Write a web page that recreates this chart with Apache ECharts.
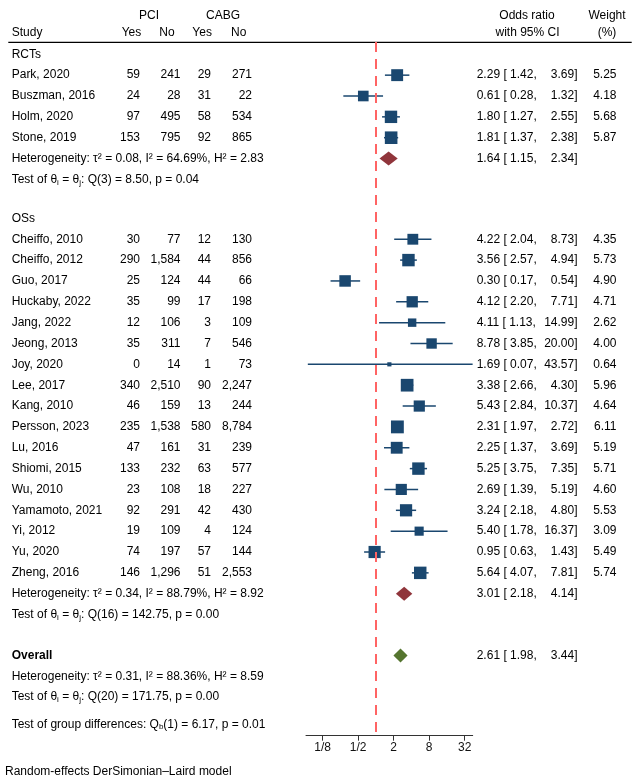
<!DOCTYPE html>
<html>
<head>
<meta charset="utf-8">
<script src="https://cdn.jsdelivr.net/npm/echarts@6/dist/echarts.min.js"></script>
<style>html,body{margin:0;padding:0;background:#fff}#main{width:640px;height:779px}</style>
</head>
<body>
<div id="main"></div>
<script>
// ---------------- DATA ----------------
const rctStudies = ['Park, 2020', 'Buszman, 2016', 'Holm, 2020', 'Stone, 2019'];
const rctPciYes  = [59, 24, 97, 153];
const rctPciNo   = [241, 28, 495, 795];
const rctCabgYes = [29, 31, 58, 92];
const rctCabgNo  = [271, 22, 534, 865];
const rctOR      = [2.29, 0.61, 1.80, 1.81];
const rctLo      = [1.42, 0.28, 1.27, 1.37];
const rctHi      = [3.69, 1.32, 2.55, 2.38];
const rctWeight  = [5.25, 4.18, 5.68, 5.87];
const rctPooled  = [1.64, 1.15, 2.34];
const rctHet     = ['0.08', '64.69', '2.83'];
const rctQ       = ['3', '8.50', '0.04'];

const osStudies = ['Cheiffo, 2010', 'Cheiffo, 2012', 'Guo, 2017', 'Huckaby, 2022', 'Jang, 2022', 'Jeong, 2013',
  'Joy, 2020', 'Lee, 2017', 'Kang, 2010', 'Persson, 2023', 'Lu, 2016', 'Shiomi, 2015', 'Wu, 2010',
  'Yamamoto, 2021', 'Yi, 2012', 'Yu, 2020', 'Zheng, 2016'];
const osPciYes  = [30, 290, 25, 35, 12, 35, 0, 340, 46, 235, 47, 133, 23, 92, 19, 74, 146];
const osPciNo   = [77, 1584, 124, 99, 106, 311, 14, 2510, 159, 1538, 161, 232, 108, 291, 109, 197, 1296];
const osCabgYes = [12, 44, 44, 17, 3, 7, 1, 90, 13, 580, 31, 63, 18, 42, 4, 57, 51];
const osCabgNo  = [130, 856, 66, 198, 109, 546, 73, 2247, 244, 8784, 239, 577, 227, 430, 124, 144, 2553];
const osOR      = [4.22, 3.56, 0.30, 4.12, 4.11, 8.78, 1.69, 3.38, 5.43, 2.31, 2.25, 5.25, 2.69, 3.24, 5.40, 0.95, 5.64];
const osLo      = [2.04, 2.57, 0.17, 2.20, 1.13, 3.85, 0.07, 2.66, 2.84, 1.97, 1.37, 3.75, 1.39, 2.18, 1.78, 0.63, 4.07];
const osHi      = [8.73, 4.94, 0.54, 7.71, 14.99, 20.00, 43.57, 4.30, 10.37, 2.72, 3.69, 7.35, 5.19, 4.80, 16.37, 1.43, 7.81];
const osWeight  = [4.35, 5.73, 4.90, 4.71, 2.62, 4.00, 0.64, 5.96, 4.64, 6.11, 5.19, 5.71, 4.60, 5.53, 3.09, 5.49, 5.74];
const osPooled  = [3.01, 2.18, 4.14];
const osHet     = ['0.34', '88.79', '8.92'];
const osQ       = ['16', '142.75', '0.00'];

const overallPooled = [2.61, 1.98, 3.44];
const overallHet    = ['0.31', '88.36', '8.59'];
const overallQ      = ['20', '171.75', '0.00'];
const groupDiff     = ['1', '6.17', '0.01'];

const tickValues = [0.125, 0.5, 2, 8, 32];
const tickLabels = ['1/8', '1/2', '2', '8', '32'];

// ---------------- LAYOUT ----------------
const FONT = '"Liberation Sans", Arial, Helvetica, sans-serif';
const NAVY = '#1a476f', MAROON = '#90353b', GREEN = '#55752f', REFRED = '#ff6464';

const rows = []; // text rows
const studyPts = []; // [or, r, w]
const ciPts = []; // [lo, hi, r]
const diamonds = []; // [est, lo, hi, r, colorIdx]
let r = 0;
function addBlock(name, studies, py, pn, cy, cn, or, lo, hi, w, pooled, het, q, colorIdx) {
  rows.push({kind: 'header', r, text: name});
  for (let i = 0; i < studies.length; i++) {
    r += 1;
    rows.push({kind: 'study', r, text: studies[i], cols: [py[i], pn[i], cy[i], cn[i]], or: or[i], lo: lo[i], hi: hi[i], w: w[i]});
    studyPts.push([or[i], r, w[i]]);
    ciPts.push([lo[i], hi[i], r]);
  }
  r += 1;
  rows.push({kind: 'het', r, het, or: pooled[0], lo: pooled[1], hi: pooled[2]});
  diamonds.push([pooled[0], pooled[1], pooled[2], r, colorIdx]);
  r += 1;
  rows.push({kind: 'q', r, q});
}
addBlock('RCTs', rctStudies, rctPciYes, rctPciNo, rctCabgYes, rctCabgNo, rctOR, rctLo, rctHi, rctWeight, rctPooled, rctHet, rctQ, 0);
r += 1.87;
addBlock('OSs', osStudies, osPciYes, osPciNo, osCabgYes, osCabgNo, osOR, osLo, osHi, osWeight, osPooled, osHet, osQ, 0);
r += 1.96;
rows.push({kind: 'overall', r, or: overallPooled[0], lo: overallPooled[1], hi: overallPooled[2]});
diamonds.push([overallPooled[0], overallPooled[1], overallPooled[2], r, 1]);
r += 1; rows.push({kind: 'het', r, het: overallHet});
r += 1; rows.push({kind: 'q', r, q: overallQ});
r += 1.3; rows.push({kind: 'group', r, q: groupDiff});

const chart = echarts.init(document.getElementById('main'), null, {renderer: 'canvas'});
const option = {
  animation: false,
  grid: {left: 306, right: 167.3, top: 42, bottom: 43.3},
  xAxis: {
    type: 'log', logBase: 2, min: 0.0652, max: 43.7, position: 'bottom',
    splitLine: {show: false},
    axisLine: {show: true, onZero: false, lineStyle: {color: '#333', width: 1}},
    axisTick: {show: true, length: 5, customValues: tickValues, lineStyle: {color: '#333'}},
    axisLabel: {customValues: tickValues, margin: 6, color: '#111', fontSize: 12, fontFamily: FONT,
      formatter: v => tickLabels[tickValues.findIndex(t => Math.abs(t - v) < 1e-6)] || ''}
  },
  yAxis: {type: 'value', inverse: true, min: -0.59, max: 32.68, show: false},
  series: [
    {
      type: 'custom', clip: false, z: 2,
      data: ciPts,
      renderItem: (params, api) => {
        const p1 = api.coord([api.value(0), api.value(2)]);
        const p2 = api.coord([api.value(1), api.value(2)]);
        return {type: 'line', shape: {x1: p1[0], y1: p1[1], x2: p2[0], y2: p2[1]},
          style: {stroke: NAVY, lineWidth: 1.5}};
      }
    },
    {
      type: 'scatter', z: 3, symbol: 'rect',
      data: studyPts,
      symbolSize: d => 5.2 * Math.sqrt(d[2]),
      itemStyle: {color: NAVY, opacity: 1},
      markLine: {
        silent: true, symbol: 'none', label: {show: false},
        lineStyle: {color: REFRED, type: [10, 7], width: 2},
        data: [{xAxis: 1}]
      }
    },
    {
      type: 'custom', clip: false, z: 3,
      data: diamonds,
      renderItem: (params, api) => {
        const y = api.value(3);
        const c = api.coord([api.value(0), y]);
        const l = api.coord([api.value(1), y]);
        const h = api.coord([api.value(2), y]);
        const hh = 7;
        return {type: 'polygon', shape: {points: [[l[0], c[1]], [c[0], c[1] - hh], [h[0], c[1]], [c[0], c[1] + hh]]},
          style: {fill: api.value(4) === 1 ? GREEN : MAROON}};
      }
    }
  ]
};
chart.setOption(option);

// ---------------- TEXT ----------------
const g = [];
function txt(x, y, text, align, extra) {
  g.push(Object.assign({type: 'text', x, y, silent: true, style: Object.assign({
    text, font: '12px ' + FONT, fill: '#000', textAlign: align || 'left', textVerticalAlign: 'middle'
  }, extra || {})}));
}
const rich = {sub: {fontSize: 8, fontFamily: FONT, fill: '#000', padding: [6, 0, 0, 0], verticalAlign: 'bottom'}};
const fmtInt = v => v.toLocaleString('en-US');
const yPix = v => chart.convertToPixel({yAxisIndex: 0}, v);
const X = {label: 11.7, c1: 140, c2: 180.5, c3: 211, c4: 252, or: 476.7, hi: 577.5, w: 616.5};

// headers
txt(149, 15.7, 'PCI', 'center');
txt(223, 15.7, 'CABG', 'center');
txt(X.label, 32.3, 'Study');
txt(121.7, 32.3, 'Yes');
txt(159.3, 32.3, 'No');
txt(192.3, 32.3, 'Yes');
txt(231, 32.3, 'No');
txt(527, 15.7, 'Odds ratio', 'center');
txt(527.5, 32.3, 'with 95% CI', 'center');
txt(607, 15.7, 'Weight', 'center');
txt(607, 32.3, '(%)', 'center');
g.push({type: 'line', silent: true, shape: {x1: 8.3, y1: 42.3, x2: 631.7, y2: 42.3}, style: {stroke: '#000', lineWidth: 1.2}});

function orText(y, row) {
  txt(X.or, y, row.or.toFixed(2) + ' [ ' + row.lo.toFixed(2) + ',');
  txt(X.hi, y, row.hi.toFixed(2) + ']', 'right');
}
rows.forEach(row => {
  const y = yPix(row.r);
  if (row.kind === 'header') txt(X.label, y, row.text);
  else if (row.kind === 'study') {
    txt(X.label, y, row.text);
    txt(X.c1, y, fmtInt(row.cols[0]), 'right');
    txt(X.c2, y, fmtInt(row.cols[1]), 'right');
    txt(X.c3, y, fmtInt(row.cols[2]), 'right');
    txt(X.c4, y, fmtInt(row.cols[3]), 'right');
    orText(y, row);
    txt(X.w, y, row.w.toFixed(2), 'right');
  } else if (row.kind === 'het') {
    txt(X.label, y, 'Heterogeneity: τ² = ' + row.het[0] + ', I² = ' + row.het[1] + '%, H² = ' + row.het[2]);
    if (row.or !== undefined) orText(y, row);
  } else if (row.kind === 'q') {
    txt(X.label, y, 'Test of θ{sub|i} = θ{sub|j}: Q(' + row.q[0] + ') = ' + row.q[1] + ', p = ' + row.q[2], 'left', {rich});
  } else if (row.kind === 'overall') {
    txt(X.label, y, 'Overall', 'left', {font: 'bold 12px ' + FONT});
    orText(y, row);
  } else if (row.kind === 'group') {
    txt(X.label, y, 'Test of group differences: Q{sub|b}(' + row.q[0] + ') = ' + row.q[1] + ', p = ' + row.q[2], 'left', {rich});
  }
});
txt(5, 771.7, 'Random-effects DerSimonian–Laird model');
chart.setOption({graphic: {elements: g}});
</script>
</body>
</html>
